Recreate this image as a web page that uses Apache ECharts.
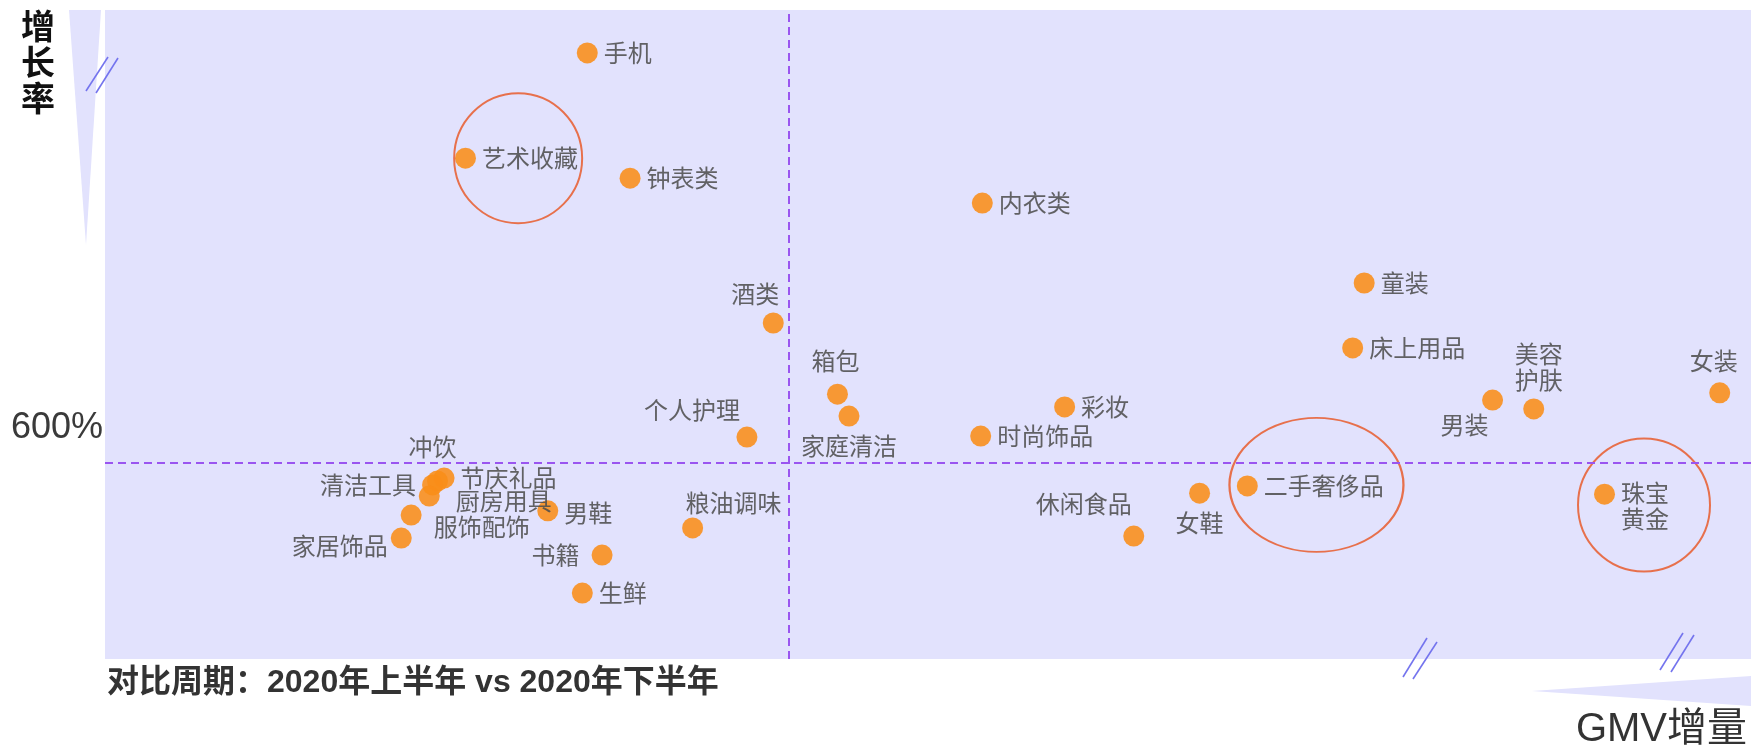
<!DOCTYPE html>
<html>
<head>
<meta charset="utf-8">
<script src="https://cdn.jsdelivr.net/npm/echarts@6/dist/echarts.min.js"></script>
<style>
html,body{margin:0;padding:0;background:#fff;}
#chart{width:1751px;height:749px;}
</style>
</head>
<body>
<div id="chart"></div>
<script>
// ---- data ----
const categories = ['手机','艺术收藏','钟表类','内衣类','酒类','箱包','家庭清洁','个人护理','时尚饰品','彩妆',
  '童装','床上用品','男装','美容护肤','女装','二手奢侈品','女鞋','休闲食品','珠宝黄金','冲饮',
  '节庆礼品','清洁工具','厨房用具','服饰配饰','家居饰品','男鞋','书籍','生鲜','粮油调味'];
const gmvGrowth = [29.3,21.9,31.9,53.3,40.6,44.5,45.2,39.0,53.2,58.3,
  76.5,75.8,84.3,86.8,98.1,69.4,66.5,62.5,91.1,20.2,
  20.6,19.9,19.7,18.6,18.0,26.9,30.2,29.0,35.7];
const growthRate = [1849,1528,1467,1391,1025,808,741,677,680,769,
  1147,949,790,763,812,528,506,375,503,543,
  552,531,497,439,369,452,317,201,400];
const avgGmv = 41.55;
const avgGrowth = 600;
const yTickLabels = [600];
const highlighted = ['艺术收藏','二手奢侈品','珠宝黄金'];
const highlightGmv = [25.1, 73.6, 93.5];
const highlightRate = [1528, 531, 470];
const twoLineLabels = ['美容护肤','珠宝黄金'];

// ---- styles (label placement, sizes) ----
const labelPlacement = {
  '酒类':['top',-18,0], '箱包':['top',-2,-4], '家庭清洁':['bottom',0,0], '个人护理':['top',-55,2],
  '男装':['bottom',-28,-5], '美容护肤':['top',5,0], '女装':['top',-6,-2], '女鞋':['bottom',0,0],
  '休闲食品':['top',-50,-3], '珠宝黄金':['right',0,12], '冲饮':['top',-5,-5], '清洁工具':['left',0,0],
  '厨房用具':['right',10,5], '服饰配饰':['right',6,12], '家居饰品':['left',3,8], '男鞋':['right',0,2],
  '书籍':['left',-6,0], '粮油调味':['top',41,4]
};
const highlightSizes = [[128,130],[174,134],[132,133]];

const points = categories.map((name, i) => {
  const p = labelPlacement[name] || ['right',0,0];
  return {
    name: name,
    value: [gmvGrowth[i], growthRate[i]],
    label: { position: p[0], offset: [p[1], p[2]] }
  };
});
const rings = highlighted.map((name, i) => ({
  name: name,
  value: [highlightGmv[i], highlightRate[i]],
  symbolSize: highlightSizes[i]
}));

const chart = echarts.init(document.getElementById('chart'), null, {renderer:'canvas'});
const lav = '#e2e2fd';
const brk = '#7474ee';
const labelFont = '"Noto Sans CJK SC", "Noto Sans", sans-serif';
const option = {
  backgroundColor: '#ffffff',
  animation: false,
  grid: { left: 105, top: 10, right: 0, bottom: 90, show: true, backgroundColor: lav, borderWidth: 0 },
  xAxis: { type: 'value', min: 0, max: 100, show: false },
  yAxis: {
    type: 'value', min: 0, max: 1980, interval: 600,
    axisLine: {show:false}, axisTick: {show:false}, splitLine: {show:false},
    axisLabel: {
      margin: 2, fontSize: 36, color: '#3a3a3a',
      fontFamily: '"Liberation Sans", Arial, sans-serif',
      verticalAlign: 'bottom', padding: [0,0,16,0],
      showMaxLabel: false,
      formatter: v => yTickLabels.indexOf(v) >= 0 ? v + '%' : ''
    }
  },
  series: [
    {
      type: 'scatter',
      symbolSize: 21,
      itemStyle: { color: '#f98d18', opacity: 0.88 },
      label: {
        show: true, distance: 6, fontSize: 24, color: '#4e4e4e', lineHeight: 26,
        fontFamily: labelFont,
        formatter: p => twoLineLabels.indexOf(p.name) >= 0 ? p.name.slice(0,2) + '\n' + p.name.slice(2) : p.name
      },
      data: points,
      markLine: {
        silent: true, symbol: 'none', animation: false,
        label: { show: false },
        lineStyle: { color: '#9a55f0', type: [8,5], width: 2 },
        data: [{ yAxis: avgGrowth }, { xAxis: avgGmv }]
      },
      z: 3
    },
    {
      type: 'scatter',
      silent: true,
      itemStyle: { color: 'rgba(0,0,0,0)', borderColor: '#e9541f', borderWidth: 2 },
      label: { show: false },
      data: rings,
      z: 4
    }
  ],
  graphic: [
    { type: 'polygon', shape: { points: [[69,10],[101,10],[86,245]] }, style: { fill: lav } },
    { type: 'polygon', shape: { points: [[1532,691],[1751,676],[1751,706]] }, style: { fill: lav } },
    { type: 'line', shape: {x1:86,y1:91,x2:108,y2:57}, style: {stroke: brk, lineWidth: 1.6}, z: 10 },
    { type: 'line', shape: {x1:96,y1:93,x2:118,y2:58}, style: {stroke: brk, lineWidth: 1.6}, z: 10 },
    { type: 'line', shape: {x1:1403,y1:677,x2:1427,y2:638}, style: {stroke: brk, lineWidth: 1.6}, z: 10 },
    { type: 'line', shape: {x1:1413,y1:679,x2:1437,y2:642}, style: {stroke: brk, lineWidth: 1.6}, z: 10 },
    { type: 'line', shape: {x1:1660,y1:670,x2:1683,y2:633}, style: {stroke: brk, lineWidth: 1.6}, z: 10 },
    { type: 'line', shape: {x1:1671,y1:672,x2:1694,y2:635}, style: {stroke: brk, lineWidth: 1.6}, z: 10 },
    { type: 'text', x: 38, y: 8, style: {
        text: '增\n长\n率', font: 'bold 34px "Noto Sans CJK SC", sans-serif', fill: '#111',
        align: 'center', verticalAlign: 'top', lineHeight: 36 } },
    { type: 'text', x: 1747, y: 730, style: {
        text: 'GMV增量', font: '40px "Liberation Sans", "Noto Sans CJK SC", sans-serif', fill: '#333',
        align: 'right', verticalAlign: 'middle' } },
    { type: 'text', x: 107, y: 683, style: {
        text: '对比周期：2020年上半年 vs 2020年下半年', font: 'bold 32px "Liberation Sans", "Noto Sans CJK SC", sans-serif', fill: '#333',
        align: 'left', verticalAlign: 'middle' } }
  ]
};
chart.setOption(option);
</script>
</body>
</html>
